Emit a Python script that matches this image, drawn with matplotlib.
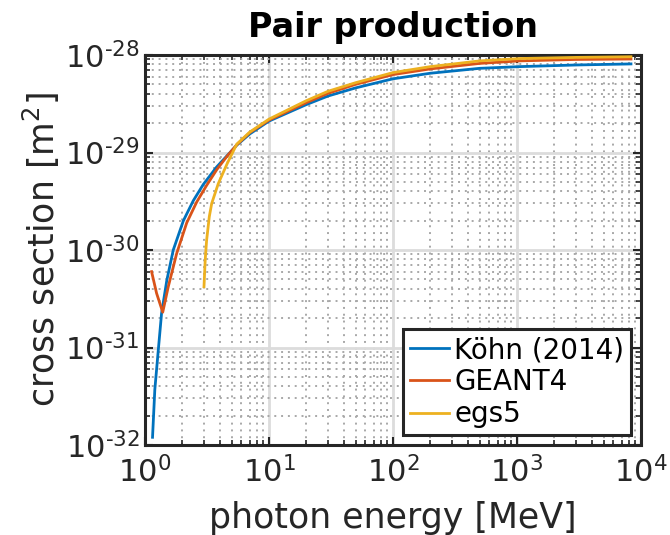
import matplotlib
matplotlib.use("Agg")
import matplotlib.pyplot as plt
from matplotlib.ticker import LogLocator, NullFormatter, FixedLocator

# ---- data ----
kohn_E = [1.15, 1.20, 1.28, 1.36, 1.50, 1.69, 2.04, 2.45, 2.95, 3.78, 4.6, 5.5, 7, 10, 20, 30, 50, 100, 200,
          500, 1050, 3000, 8300]
kohn_s = [1.2e-32, 3.7e-32, 9.4e-32, 2.24e-31, 4.9e-31, 1.0e-30, 2.0e-30, 3.2e-30, 4.7e-30, 7.1e-30, 9.3e-30,
          1.19e-29, 1.55e-29, 2.1e-29, 3.1e-29, 3.8e-29, 4.6e-29, 5.7e-29, 6.5e-29, 7.3e-29, 7.6e-29,
          7.9e-29, 8.1e-29]

geant_E = [1.13, 1.24, 1.39, 1.54, 1.80, 2.17, 2.61, 3.14, 3.8, 4.6, 5.5, 7, 10, 20, 30, 50, 100, 200, 500,
           1050, 3000, 8300]
geant_s = [6.0e-31, 3.6e-31, 2.3e-31, 4.2e-31, 9.2e-31, 1.9e-30, 3.1e-30, 4.6e-30, 6.7e-30, 9.2e-30, 1.2e-29,
           1.6e-29, 2.15e-29, 3.25e-29, 4.05e-29, 5.0e-29, 6.3e-29, 7.2e-29, 8.2e-29, 8.7e-29, 9.0e-29, 9.1e-29]

egs_E = [2.99, 3.06, 3.14, 3.3, 3.45, 3.9, 4.6, 5.5, 7, 10, 20, 30, 50, 100, 200, 500, 1050, 3000, 8300]
egs_s = [4.2e-31, 8.0e-31, 1.26e-30, 2.2e-30, 3.0e-30, 4.8e-30, 7.7e-30, 1.22e-29, 1.62e-29, 2.2e-29,
         3.4e-29, 4.25e-29, 5.2e-29, 6.6e-29, 7.6e-29, 8.7e-29, 9.2e-29, 9.45e-29, 9.6e-29]

series_labels = ["Köhn (2014)", "GEANT4", "egs5"]
colors = ["#0072BD", "#D95319", "#EDB120"]

x_ticks = [1, 10, 100, 1000, 10000]
x_ticklabels = [r"$10^{0}$", r"$10^{1}$", r"$10^{2}$", r"$10^{3}$", r"$10^{4}$"]
y_ticks = [1e-32, 1e-31, 1e-30, 1e-29, 1e-28]
y_ticklabels = [r"$10^{‐32}$", r"$10^{‐31}$", r"$10^{‐30}$", r"$10^{‐29}$", r"$10^{‐28}$"]

title = "Pair production"
xlabel = "photon energy [MeV]"
ylabel = r"cross section [m$^{2}$]"

# ---- style ----
plt.rcParams["font.family"] = ["DejaVu Sans"]
plt.rcParams["mathtext.fontset"] = "dejavusans"
axcol = "#262626"

fig = plt.figure(figsize=(6.7, 5.35), dpi=100)
W, H = 670, 535
ax = fig.add_axes([145 / W, 1 - 445 / H, 496 / W, 390 / H])
ax.set_xscale("log")
ax.set_yscale("log")

for E, s, lab, c in zip([kohn_E, geant_E, egs_E], [kohn_s, geant_s, egs_s], series_labels, colors):
    ax.plot(E, s, color=c, lw=2.0, label=lab, zorder=3, solid_joinstyle="round")

ax.set_xlim(1, 1e4)
ax.set_ylim(1e-32, 1e-28)
ax.xaxis.set_major_locator(FixedLocator(x_ticks))
ax.yaxis.set_major_locator(FixedLocator(y_ticks))
ax.set_xticklabels(x_ticklabels)
ax.set_yticklabels(y_ticklabels)
ax.xaxis.set_minor_locator(LogLocator(base=10, subs=range(2, 10), numticks=20))
ax.yaxis.set_minor_locator(LogLocator(base=10, subs=range(2, 10), numticks=20))
ax.xaxis.set_minor_formatter(NullFormatter())
ax.yaxis.set_minor_formatter(NullFormatter())

ax.grid(True, which="major", color="#dcdcdc", lw=2.0, ls="-", zorder=0)
ax.grid(True, which="minor", color="#a8a8a8", lw=1.4, ls=(0, (1, 2.5)), zorder=0)
ax.set_axisbelow(True)

ax.tick_params(which="both", direction="in", top=True, right=True, colors=axcol, labelcolor=axcol)
ax.tick_params(which="major", length=6, width=1.5, labelsize=22, pad=4)
ax.tick_params(which="minor", length=3.5, width=1.2)
ax.tick_params(axis="x", which="major", pad=8)
for sp in ax.spines.values():
    sp.set_linewidth(2.2)
    sp.set_color(axcol)

ax.set_title(title, fontsize=24, fontweight="bold", color="black", pad=13)
ax.set_xlabel(xlabel, fontsize=25, color=axcol, labelpad=9)
ax.set_ylabel(ylabel, fontsize=25, color=axcol, labelpad=2)

leg = ax.legend(loc="lower right", fontsize=20, handlelength=1.4, handletextpad=0.2,
                borderpad=0.25, labelspacing=0.15, fancybox=False, framealpha=1,
                borderaxespad=0.35)
leg.get_frame().set_edgecolor(axcol)
leg.get_frame().set_linewidth(2.2)
for t in leg.get_texts():
    t.set_color("black")

fig.savefig("out.png", dpi=100)
